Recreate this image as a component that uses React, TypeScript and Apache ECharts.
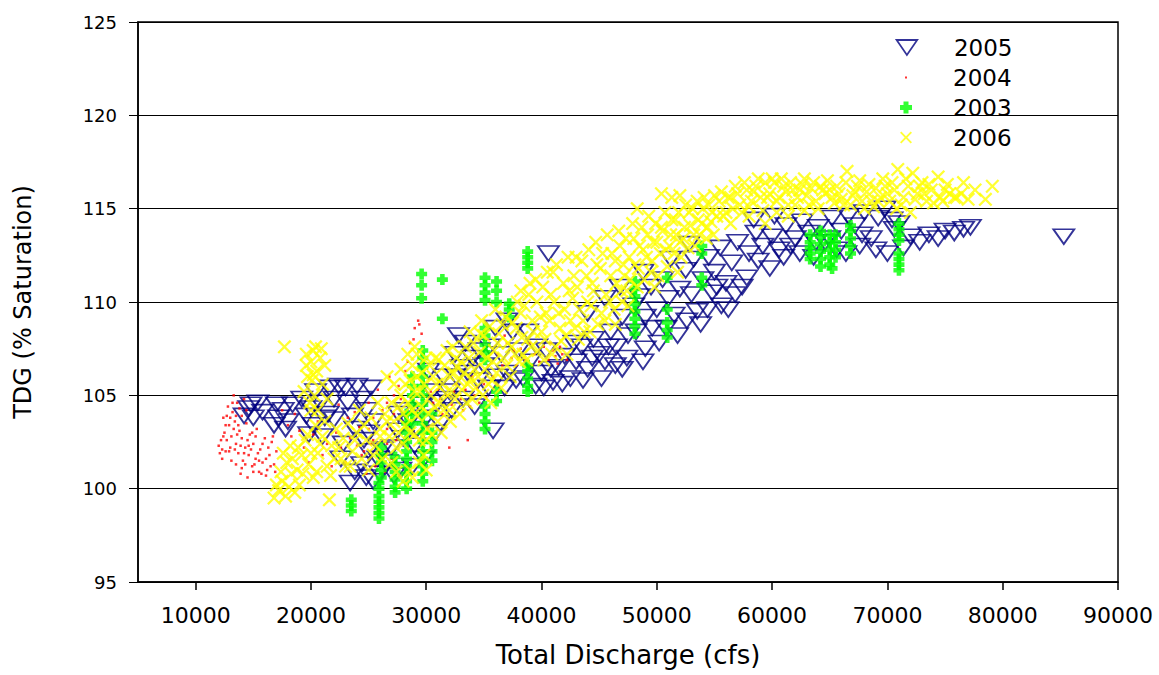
import React, { useEffect, useRef } from "react";
import * as echarts from "echarts";

const xTicks = [10000, 20000, 30000, 40000, 50000, 60000, 70000, 80000, 90000];
const seriesNames = ["2005", "2004", "2003", "2006"];

const s2005: number[][] = [
  [14200,103.9],[14600,104.3],[15000,103.8],[15400,104.6],[14800,104.5],[15800,104.1],
  [17000,104.5],[17200,103.8],[17600,104.2],[18000,103.6],[18400,104.5],[17800,103.2],[16800,103.4],
  [19200,104.8],[19600,103.9],[20000,104.3],[20400,105.2],[20800,104.6],[21200,103.8],[21600,105.4],[20200,103.4],[19800,102.9],[21000,102.8],[22000,104.8],[22400,105.5],[22000,103.7],[21500,104.0],
  [23000,105.4],[23200,104.6],[23600,103.9],[24000,105.5],[24400,104.8],[24800,104.2],[25200,105.4],[25400,103.6],[23800,103.2],[24600,102.6],[25000,103.0],[22800,102.4],
  [23400,100.3],[23800,100.9],[24400,101.3],[24800,100.6],[25400,100.4],[25800,101.6],[26200,102.1],[25000,102.0],[26600,101.4],[26000,100.8],[22600,101.6],
  [27000,102.2],[27500,103.1],[28000,102.7],[28500,103.6],[29000,102.3],[28200,104.2],[29500,104.5],[30000,103.8],[30500,105.2],[31000,104.6],[30200,106.3],[31500,106.0],[32000,105.2],[32500,107.2],[33000,106.5],[33400,107.8],[32800,108.2],[34000,107.0],[34500,105.8],[35000,106.6],[35500,107.6],[35800,103.1],[36000,108.6],[36500,107.2],[37000,106.2],[37500,108.4],[37000,109.0],[38000,107.4],[38400,105.9],[39000,106.8],[39500,105.5],[40000,106.2],[40400,107.4],[40600,112.6],[41000,105.7],[41500,106.5],[42000,107.1],[42500,105.9],[43000,106.8],[43500,107.6],[44000,106.4],[44500,108.0],[45000,107.2],[45500,106.8],[46000,108.4],[46500,107.6],[47000,109.2],[47500,108.2],[48000,109.8],[48500,110.3],[49000,109.2],[49500,110.8],[50000,109.6],[50500,111.2],[51000,110.2],[51500,109.3],[52000,110.7],[52500,111.7],[53000,110.4],[53500,109.5],[53800,108.8],[54000,111.2],[54500,112.4],[55000,111.6],[55500,112.9],[56000,111.0],[56500,112.1],[57000,113.2],[57800,111.3],[58000,112.6],[58600,113.7],[59200,113.0],[60000,113.5],[60600,112.8],[61200,114.1],[62000,113.4],[62600,114.3],[63200,113.7],[64000,114.0],[64600,113.2],[65200,114.5],[66000,113.8],[66600,114.6],[67200,114.1],[68000,114.8],[68600,113.4],[69200,114.5],[69800,115.0],[70000,112.6],[70600,113.9],[71400,112.9],[72000,113.5],[72800,113.2],[73600,113.6],[74400,113.4],[75000,113.8],[75800,113.7],[76600,113.9],[77200,114.0],[85300,113.5],
  [44000,109.4],[45500,110.2],[46800,110.8],[48800,111.6],[51200,112.3],[52800,113.1],[50200,107.8],[49000,107.5],[47000,106.4],[55600,109.8],[56800,110.4],[54800,110.5],[58400,114.4],[60200,114.6],[61600,113.0],[63600,112.4],[65600,112.8],[67600,113.0],
  [31200,103.5],[32200,104.2],[33200,104.8],[34200,104.4],[29800,101.6],[28800,101.2],[27800,101.0],[27200,100.7],
  [27600,104.0],[29200,103.2],[30800,103.0],[31800,104.8],[32600,106.0],[33600,106.2],[34600,107.4],[35400,105.4],[36200,106.0],[36800,105.4],[37800,105.8],[38800,108.4],[39600,107.6],[40200,105.4],[40800,106.4],[41800,105.6],[42800,107.8],[43600,105.8],[44400,107.0],[45200,105.9],[45800,107.6],[46400,106.6],[47400,107.0],[48200,108.4],[48800,106.8],[49600,108.6],[50800,108.6],[51800,108.2],[52600,109.0],[53200,112.3],[54400,109.6],[55200,110.8],[56200,109.6],[57400,110.8],[58800,112.2],[59800,111.8],[61000,112.4],[62400,112.6],[63800,113.2],[65000,113.4],[66400,112.6],[67800,113.6],[69000,112.8],[70400,114.4],[71000,114.2]
];

const s2004: number[][] = [
  [12000,102.3],[12300,102.1],[12500,103.0],[12700,102.6],[12900,103.4],[13100,102.8],[13200,104.1],[13400,103.6],[13500,102.4],[13700,101.9],[13800,103.1],[14000,102.7],[14100,101.5],[14300,102.2],[14400,103.5],[14600,101.8],[14700,102.9],[14900,101.2],[15000,102.4],[15200,101.6],[15300,103.2],[15500,100.9],[15600,102.1],[15800,101.4],[16000,102.7],[16200,101.0],[16400,101.8],[16600,102.5],[16800,101.3],[17000,102.0],[12800,104.4],[13300,105.0],[13600,104.6],[12400,103.8],[14200,104.8],[13900,100.8],[14500,100.6],[16100,100.7],
  [12600,102.0],[13000,102.2],[13300,103.2],[13600,102.9],[13900,102.3],[14200,101.9],[14500,102.6],[14800,102.1],[15100,101.3],[15400,101.9],[13000,103.8],[13500,103.9],[12200,102.6],[14000,101.1],[15700,100.8],[16300,102.2],
  [12100,101.9],[12400,102.8],[12600,103.4],[12900,102.0],[13100,101.5],[13400,102.1],[13700,103.4],[14000,103.9],[14300,101.3],[14600,102.3],[14900,103.0],[15200,102.8],[15500,101.5],[15800,102.4],[16100,101.6],[16500,101.2],[16900,100.9],[13200,104.6],[13800,104.3],[14400,104.2],[12700,103.9],[15000,100.9],[13500,101.3],[16700,102.8],[12300,101.6],
  [17500,104.2],[18000,103.4],[18300,102.8],[18600,104.0],[19000,103.1],[19400,102.2],[19800,101.4],[20200,102.9],[20600,103.6],[21000,101.8],[21400,102.4],[21800,101.2],[22200,103.0],[22600,102.2],[23000,101.4],[23400,102.7],[23800,104.1],[24200,103.3],[24600,102.0],[25000,104.6],[25400,103.8],[25800,105.3],[26200,104.2],[26600,103.2],[27000,101.6],[27400,102.6],[27800,104.8],[28200,106.3],[28600,107.8],[29000,108.6],[29300,109.0],[29600,108.3],[28900,108.0],[27600,105.5],[26800,106.0],[29800,104.0],[30200,103.3],[30600,104.6],[31000,105.3],[31400,104.0],[31800,105.0],[32200,104.5],[32600,105.6],[33000,104.8],[33400,105.3],[33800,104.4],[34200,105.0],[34600,104.6],[35000,105.6],[35400,106.6],[35800,106.0],[36200,107.2],[36600,106.6],[37000,107.8],[37400,107.0],[37800,106.6],[38200,107.5],[38600,106.9],[39000,107.8],[39400,107.2],[39800,106.8],[40200,107.6],[40600,106.9],[41000,107.4],[41400,106.7],[41800,107.2],[42200,106.9],[36800,108.2],[33600,102.6],[32000,102.2],[24800,100.8],[25600,101.2],[26400,100.9],
  [24400,101.8],[25200,102.4],[26000,101.7],[26600,102.4],[27200,104.0],[31200,104.8],[32400,105.2],[33200,104.2],[34400,105.4],[35200,104.9],[40800,107.8],[41200,107.1],[41600,107.6],
  [22400,104.5],[23200,103.8],[24000,102.3],[25000,103.2],[25400,102.6],[26600,104.6],[27200,105.0],[28400,106.8],[29400,108.8],[30400,105.2],[34000,106.0],[37600,107.4],[39200,106.6]
];

const s2003: number[][] = [
  [23500,98.8],[23500,99.1],[23500,99.4],
  [25900,98.4],[25900,98.7],[25900,99.0],[25900,99.3],[25900,99.6],[25900,100.0],[25900,100.3],
  [26100,100.6],[26100,101.0],[26100,101.4],[26100,101.8],[26100,102.2],
  [27300,99.8],[27300,100.1],[27300,100.5],[27300,100.9],[27300,101.3],[27300,101.7],
  [28300,100.0],[28300,100.4],[28300,100.8],[28300,101.2],[28300,101.6],[28300,102.0],[28300,102.5],[28300,103.0],[28300,103.5],[28300,104.0],
  [28800,103.5],[28800,104.0],[28800,104.5],[28800,105.0],[28800,105.5],[28800,106.0],
  [29700,100.4],[29700,100.8],[29700,101.2],[29700,101.6],[29700,102.0],[29700,102.5],[29700,103.0],[29700,103.5],[29700,104.0],[29700,104.5],[29700,105.0],[29700,105.5],[29700,106.0],[29700,106.5],[29700,107.0],[29700,107.4],[29600,110.2],[29600,110.9],[29600,111.5],
  [30500,101.5],[30500,102.0],[30500,102.5],[30500,103.0],[30500,104.0],
  [31400,111.2],[31400,109.1],
  [35100,103.2],[35100,103.6],[35100,104.0],[35100,104.4],[35100,106.9],[35100,107.3],[35100,107.7],[35100,108.2],[35100,108.6],[35100,110.1],[35100,110.5],[35100,110.9],[35100,111.3],
  [36100,110.0],[36100,110.6],[36100,111.1],[36100,104.7],[36100,105.2],
  [37200,109.2],[37200,109.6],[37200,109.9],
  [38800,111.8],[38800,112.1],[38800,112.4],[38800,112.7],[38800,105.2],[38800,105.5],[38800,105.9],[38800,106.3],[38800,106.6],
  [48100,108.3],[48100,108.7],[48100,109.1],[48100,109.5],[48100,109.9],[48100,110.3],[48100,110.7],[48100,111.1],
  [50900,111.3],[50900,108.1],[50900,108.5],[50900,108.9],[50900,109.6],
  [53900,110.9],[53900,111.3],[53900,112.6],[53900,113.0],
  [63300,112.3],[63300,112.6],[63300,112.9],[63300,113.2],[63300,113.6],
  [64200,111.9],[64200,112.3],[64200,112.7],[64200,113.1],[64200,113.5],[64200,113.8],
  [65000,112.0],[65000,112.4],[65000,112.8],[65000,113.2],[65000,113.6],
  [65500,112.4],[65500,112.8],[65500,113.2],[65500,113.6],[65200,111.8],
  [66800,112.6],[66800,113.0],[66800,113.4],[66800,113.8],[66800,114.1],
  [71000,113.3],[71000,113.6],[71000,113.9],[71000,114.2],[71000,111.7],[71000,112.0],[71000,112.3],[71000,112.6]
];

const s2006: number[][] = [
  [16800,99.5],[17200,99.9],[17500,100.4],[17800,99.6],[18100,100.1],[17400,100.9],[17900,101.4],[18300,100.8],[17600,101.9],[18200,102.3],[17000,100.2],[18600,99.8],[17700,107.6],
  [19400,105.2],[19700,106.0],[20000,106.8],[20200,107.4],[20500,106.3],[20800,107.0],[21000,105.6],[20300,105.0],[19900,104.6],[20600,104.2],[21200,106.6],[20900,107.5],[19600,107.2],[20100,105.8],[21400,104.8],
  [18800,101.0],[19200,101.8],[19500,102.6],[19800,101.3],[20200,100.6],[20600,101.9],[21000,102.8],[21400,101.2],[21800,102.3],[22200,103.2],[19000,100.2],[20400,103.4],[21600,99.4],[22600,101.6],
  [22800,102.7],[23200,103.5],[23600,102.0],[24000,103.0],[24400,101.6],[24800,102.6],[25200,103.8],[25600,102.3],[26000,103.2],[26400,104.0],[26800,102.8],[27200,103.6],[27600,104.4],[23400,101.2],[25000,101.0],[26200,101.6],[27000,101.4],[24200,104.2],[25800,104.6],
  [27800,105.0],[28000,102.4],[28200,103.4],[28400,104.6],[28600,105.8],[28800,106.6],[29000,102.9],[29200,103.9],[29400,105.2],[29600,106.2],[29800,101.8],[30000,102.6],[30200,104.0],[30400,105.0],[30600,106.0],[30800,107.0],[31000,103.6],[31200,104.6],[31400,105.6],[31600,106.6],[31800,107.4],[32000,104.2],[32200,105.2],[32400,106.2],[32600,107.0],[32800,105.8],[27200,105.6],[27800,106.4],[28400,107.2],[29000,107.6],[26600,106.0],[30000,101.0],[29400,101.4],[28600,101.0],[27400,100.9],
  [33000,106.8],[33400,107.6],[33800,108.4],[34200,106.4],[34600,107.3],[35000,108.2],[35400,105.6],[35800,106.8],[36200,107.8],[36600,108.8],[37000,106.6],[37400,107.6],[37800,108.6],[38200,109.4],[33600,105.6],[34800,109.0],[36000,109.6],[34000,104.8],[35600,104.6],
  [38400,107.2],[38800,108.0],[39200,109.0],[39600,110.0],[40000,108.4],[40400,109.4],[40800,110.4],[41200,107.6],[41600,108.6],[42000,109.6],[42400,110.6],[42800,111.4],[43200,108.0],[43600,109.0],[44000,110.0],[44400,111.0],[44800,112.0],[45200,109.4],[45600,110.4],[46000,111.4],[39000,111.0],[41000,111.6],[43000,112.4],[40200,106.9],[42200,107.2],[44200,108.4],[46400,108.8],[38200,110.6],[47000,110.0],
  [46400,112.2],[46800,113.0],[47200,111.4],[47600,112.4],[48000,113.4],[48400,111.8],[48800,112.8],[49200,113.6],[49600,112.2],[50000,113.2],[50400,114.0],[50800,112.8],[51200,113.6],[51600,114.4],[52000,113.2],[52400,114.0],[52800,114.8],[53200,113.6],[53600,114.4],[54000,115.0],[54400,114.0],[54800,114.8],[48300,115.0],[50400,115.8],[51300,115.6],[52000,115.7],[55000,115.7],[49800,110.8],[51800,111.6],[47400,110.6],
  [55400,115.4],[55800,114.6],[56200,115.6],[56600,115.0],[57000,115.8],[57400,114.8],[57800,116.0],[58200,115.4],[58600,116.2],[59000,115.6],[59400,116.4],[59800,115.8],[60200,116.4],[60600,115.6],[61000,116.2],[61400,115.2],[61800,116.0],[62200,115.6],[62600,116.3],[63000,115.7],[63400,116.1],[63800,115.4],[64200,116.2],[64600,115.8],[65000,116.0],[65400,115.3],[65800,115.8],[66200,115.2],[66500,117.0],[67000,115.7],[67400,116.2],[67800,115.4],[68200,115.9],[68600,115.4],[69000,116.1],[56400,114.2],[58000,114.6],[60400,114.8],[62800,114.9],[59400,114.2],[61400,114.6],
  [69400,115.6],[69800,116.2],[70200,115.4],[70600,116.0],[70900,117.1],[71400,115.6],[71800,116.2],[72200,116.9],[72600,115.8],[73000,116.4],[73400,115.4],[73800,116.0],[74400,116.7],[74600,115.6],[75000,116.0],[75400,115.8],[76000,115.6],[76600,116.4],[77600,116.0],[79100,116.2],[78500,115.5],[70800,115.0],[72000,114.8],
  [30100,103.2],[30300,106.6],[30500,102.9],[30700,104.4],[30900,105.6],[31100,106.9],[31300,103.0],[31500,104.2],[31700,105.1],[31900,106.1],[32100,103.6],[32300,107.6],[32500,104.8],[32700,106.5],[32900,104.0],[33100,105.3],[33300,106.2],[33500,104.6],[33700,107.0],[33900,105.9],
  [34100,107.8],[34300,105.4],[34500,106.0],[34700,108.3],[34900,105.0],[35100,106.4],[35300,107.0],[35500,108.7],[35700,105.8],[35900,107.4],[36100,106.2],[36300,108.3],[36500,105.4],[36700,107.0],[36900,109.2],[37100,107.8],[37300,106.0],[37500,108.9],[37700,107.2],[37900,110.0],[38100,106.8],[38300,108.1],
  [38500,109.8],[38700,106.9],[38900,110.4],[39100,107.6],[39300,108.4],[39500,111.2],[39700,107.4],[39900,109.2],[40100,110.8],[40300,108.0],[40500,111.6],[40700,109.0],[40900,107.2],[41100,110.0],[41300,112.0],[41500,109.4],[41700,107.9],[41900,111.0],[42100,108.2],[42300,112.4],[42500,109.0],[42700,110.2],[42900,108.6],
  [43100,110.8],[43300,109.6],[43500,112.2],[43700,108.4],[43900,111.4],[44100,112.8],[44300,109.8],[44500,110.6],[44700,113.2],[44900,108.8],[45100,111.8],[45300,112.6],[45500,109.0],[45700,113.6],[45900,110.0],[46100,112.6],[46300,109.6],[46500,111.0],[46700,113.8],[46900,110.6],[47100,112.0],[47300,113.4],[47500,109.8],[47700,111.2],[47900,114.2],
  [48100,112.0],[48300,110.8],[48500,113.0],[48700,114.0],[48900,111.2],[49100,112.4],[49300,114.6],[49500,111.6],[49700,113.2],[49900,114.2],[50100,111.4],[50300,112.6],[50500,113.8],[50700,114.8],[50900,111.9],[51100,113.0],[51300,114.4],[51500,112.6],[51700,113.6],[51900,114.8],[52100,112.4],[52300,113.4],[52500,115.2],[52700,112.9],[52900,114.1],[53100,115.0],[53300,113.0],[53500,115.4],[53700,113.6],[53900,114.2],[54100,115.6],[54300,113.4],[54500,115.2],[54700,114.3],[54900,113.6],
  [55200,114.6],[55600,115.9],[56000,114.8],[56400,115.6],[56800,116.2],[57200,115.2],[57600,116.4],[58000,115.1],[58400,115.9],[58800,116.6],[59200,114.9],[59600,115.6],[60000,116.6],[60400,115.4],[60800,116.6],[61200,115.9],[61600,116.4],[62000,115.2],[62400,116.0],[62800,116.6],
  [63200,115.2],[63600,116.4],[64000,115.0],[64400,116.0],[64800,116.5],[65200,115.6],[65600,116.2],[66000,115.5],[66400,116.4],[66800,115.2],[67200,115.9],[67600,116.5],[68000,115.0],[68400,116.3],[68800,115.1],[69200,115.4],[69600,116.6],[70000,115.8],
  [70400,116.4],[71200,115.2],[71600,116.6],[72400,115.5],[72800,116.2],[73200,115.8],[73600,116.3],[74000,115.3],[74800,115.4],[75200,116.3],[75800,115.6],[76400,115.8],[77000,115.5],
  [18400,101.6],[18900,102.2],[19300,100.8],[19700,102.9],[20000,101.9],[20500,100.9],[20800,102.4],[21200,103.6],[21700,100.7],[22000,101.6],[22400,102.2],[23000,101.2],[23800,102.6],[24600,103.4],[25400,101.8],[26000,102.8],[26600,103.6],[27000,104.6],[19600,106.6],[20200,106.1],[20400,107.6],[20000,104.2],
  [27400,102.2],[27600,103.0],[28000,104.0],[28200,105.6],[28600,103.0],[28800,104.2],[29000,105.2],[29200,106.0],[29400,102.6],[29600,104.4],[29800,105.6],[30000,107.0],[28000,100.4],[28800,100.6],[29200,107.2]
];

const FONT = "DejaVu Sans";
const NAVY = "#000080";
const TRI = "path://M0,0L22,0L11,16Z";
const PLUS = "path://M3.5,0H8.5V3.5H12V8.5H8.5V12H3.5V8.5H0V3.5H3.5Z";
const CROSS = "path://M0,1.6L1.6,0L7,5.4L12.4,0L14,1.6L8.6,7L14,12.4L12.4,14L7,8.6L1.6,14L0,12.4L5.4,7Z";
const DOT = "path://M0,0H2V2H0Z";

export default function App() {
  const ref = useRef<HTMLDivElement>(null);
  useEffect(() => {
    document.body.style.margin = "0";
    if (!ref.current) return;
    const chart = echarts.init(ref.current, undefined, { renderer: "svg" });
    const legendBase = (name: string, icon: string, top: number, w: number, h: number, style: any) => ({
      data: [{ name, icon }],
      left: 906 - w / 2,
      top,
      padding: 0,
      itemWidth: 2 * (948 - 906),
      itemHeight: h,
      selectedMode: false,
      itemStyle: style,
      textStyle: { fontFamily: FONT, fontSize: 23, color: "#000" },
    });
    chart.setOption({
      animation: false,
      backgroundColor: "#fff",
      grid: {
        left: 138, top: 22, right: 41, bottom: 93, show: true, borderColor: "#000", borderWidth: 1.5,
        backgroundColor: "transparent", containLabel: false, outerBoundsMode: "none",
      },
      legend: [
        legendBase(seriesNames[0], TRI, 36, 20.6, 15, { color: "rgba(0,0,0,0)", borderColor: NAVY, borderWidth: 1.8 }),
        legendBase(seriesNames[1], DOT, 66, 2, 2, { color: "#ff0000", borderWidth: 0 }),
        legendBase(seriesNames[2], PLUS, 96, 12, 12, { color: "#00ff00", borderWidth: 0 }),
        legendBase(seriesNames[3], CROSS, 126, 12, 12, { color: "#ffff00", borderWidth: 0 }),
      ],
      xAxis: {
        type: "value",
        min: 5000,
        max: 90000,
        name: "Total Discharge (cfs)",
        nameLocation: "middle",
        nameGap: 60,
        nameTextStyle: { fontFamily: FONT, fontSize: 26, color: "#000" },
        axisLine: { show: true, onZero: false, lineStyle: { color: "#000", width: 1.5 } },
        axisTick: { show: true, inside: false, length: 8, customValues: xTicks, lineStyle: { color: "#000", width: 1.5 } },
        axisLabel: { customValues: xTicks, formatter: (v: number) => String(v), fontFamily: FONT, fontSize: 22, color: "#000", margin: 22 },
        splitLine: { show: false },
      },
      yAxis: {
        type: "value",
        min: 95,
        max: 125,
        interval: 5,
        name: "TDG (% Saturation)",
        nameLocation: "middle",
        nameRotate: 90,
        nameGap: 103,
        nameTextStyle: { fontFamily: FONT, fontSize: 24, color: "#000" },
        axisLine: { show: true, onZero: false, lineStyle: { color: "#000", width: 1.5 } },
        axisTick: { show: true, inside: false, length: 9, lineStyle: { color: "#000", width: 1 } },
        axisLabel: { fontFamily: FONT, fontSize: 18, color: "#000", margin: 21 },
        splitLine: { show: true, lineStyle: { color: "#000", width: 1 } },
      },
      series: [
        {
          name: seriesNames[0], type: "scatter", data: s2005, symbol: TRI, symbolSize: [21, 15],
          itemStyle: { color: "rgba(0,0,0,0)", borderColor: NAVY, borderWidth: 1.8 }, silent: true,
        },
        {
          name: seriesNames[1], type: "scatter", data: s2004, symbol: DOT, symbolSize: 2.5,
          itemStyle: { color: "#ff0000" }, silent: true,
        },
        {
          name: seriesNames[2], type: "scatter", data: s2003, symbol: PLUS, symbolSize: 11,
          itemStyle: { color: "#00ff00" }, silent: true,
        },
        {
          name: seriesNames[3], type: "scatter", data: s2006, symbol: CROSS, symbolSize: 14,
          itemStyle: { color: "#ffff00" }, silent: true,
        },
      ],
    });
    return () => chart.dispose();
  }, []);
  return <div ref={ref} style={{ width: 1159, height: 675 }} />;
}
